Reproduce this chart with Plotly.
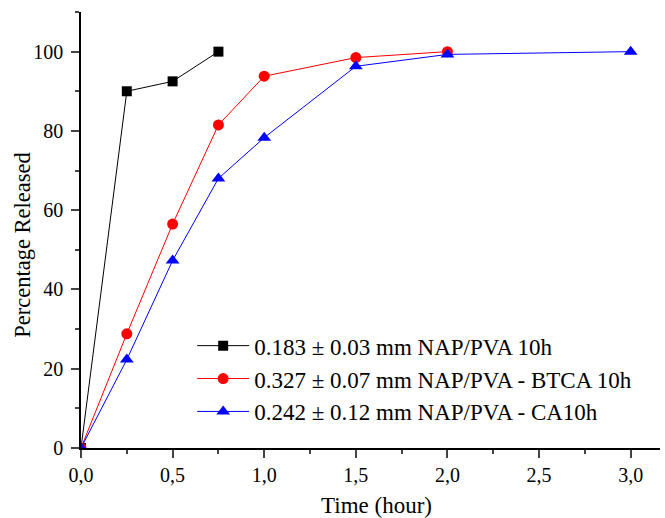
import plotly.graph_objects as go

x_black = [0, 0.25, 0.5, 0.75]
y_black = [0, 90, 92.5, 100]
x_red = [0, 0.25, 0.5, 0.75, 1.0, 1.5, 2.0]
y_red = [0, 28.8, 56.5, 81.5, 93.8, 98.5, 100]
x_blue = [0, 0.25, 0.5, 0.75, 1.0, 1.5, 2.0, 3.0]
y_blue = [0, 22.3, 47.3, 68.0, 78.3, 96.3, 99.3, 100]

names = ["0.183 ± 0.03 mm NAP/PVA 10h",
         "0.327 ± 0.07 mm NAP/PVA - BTCA 10h",
         "0.242 ± 0.12 mm NAP/PVA - CA10h"]
x_title = "Time (hour)"
y_title = "Percentage Released"

font = "Liberation Serif"

fig = go.Figure()
fig.add_trace(go.Scatter(x=x_black, y=y_black, mode="lines+markers", name=names[0],
                         line=dict(color="black", width=1),
                         marker=dict(symbol="square", size=10, color="black")))
fig.add_trace(go.Scatter(x=x_red, y=y_red, mode="lines+markers", name=names[1],
                         line=dict(color="red", width=1),
                         marker=dict(symbol="circle", size=11, color="red")))
fig.add_trace(go.Scatter(x=x_blue, y=y_blue, mode="lines+markers", name=names[2],
                         line=dict(color="blue", width=1),
                         marker=dict(symbol="triangle-up", size=12, color="blue")))

fig.update_layout(
    width=665, height=518,
    margin=dict(l=81, r=5, t=12, b=70, autoexpand=False),
    paper_bgcolor="white", plot_bgcolor="white",
    separators=",.",
    font=dict(family=font, size=20, color="black"),
    showlegend=True,
    legend=dict(x=0.192, y=0.284, xanchor="left", yanchor="top",
                bgcolor="rgba(0,0,0,0)", font=dict(size=23, family=font),
                itemwidth=52),
    xaxis=dict(range=[0, 3.16], tickvals=[0, 0.5, 1.0, 1.5, 2.0, 2.5, 3.0],
               tickformat=".1f", ticks="outside", ticklen=8, tickwidth=1.5,
               showline=True, linecolor="black", linewidth=1.5, showgrid=False,
               zeroline=False, automargin=False,
               minor=dict(dtick=0.25, ticks="outside", ticklen=4.5, tickwidth=1.5, showgrid=False)),
    yaxis=dict(range=[0, 110], dtick=20, tick0=0, ticks="outside", ticklen=8, tickwidth=1.5,
               showline=True, linecolor="black", linewidth=1.5, showgrid=False,
               zeroline=False, automargin=False, ticklabelstandoff=4,
               minor=dict(dtick=10, ticks="outside", ticklen=4.5, tickwidth=1.5, showgrid=False)),
    annotations=[
        dict(text=x_title, xref="paper", yref="paper", x=0.5, y=0, xshift=6, yshift=-57,
             xanchor="center", yanchor="middle", showarrow=False,
             font=dict(size=23, family=font)),
        dict(text=y_title, xref="paper", yref="paper", x=0, y=0.466, xshift=-58,
             xanchor="center", yanchor="middle", showarrow=False, textangle=-90,
             font=dict(size=22.5, family=font)),
    ],
)

fig.write_html("out.html", post_script="document.body.style.margin='0';",
               config={"displayModeBar": False})
